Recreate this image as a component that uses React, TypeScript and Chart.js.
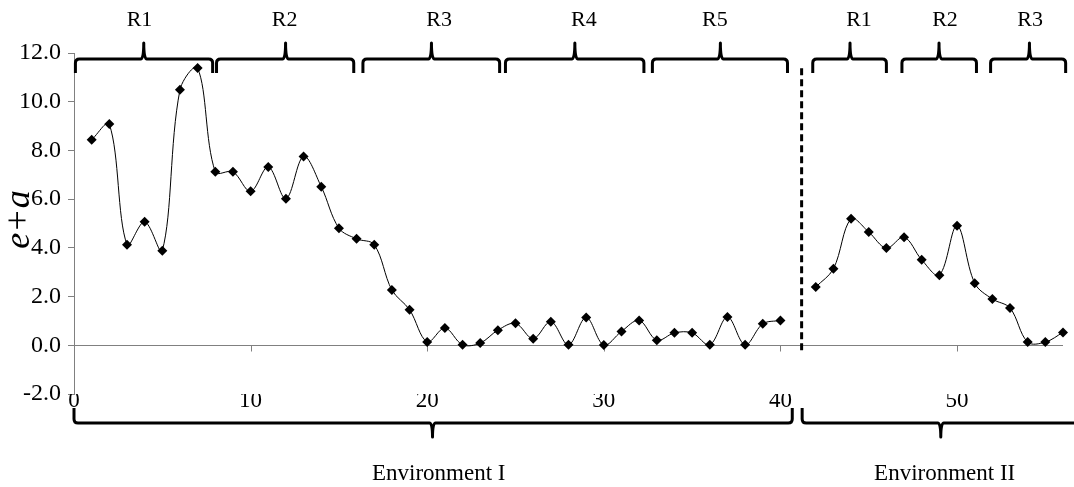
import React, { useEffect, useRef } from "react";
import { Chart, registerables } from "chart.js";

Chart.register(...registerables);

// ---- Data ----
const envIPositions = [1, 2, 3, 4, 5, 6, 7, 8, 9, 10, 11, 12, 13, 14, 15, 16, 17, 18, 19, 20, 21, 22, 23, 24, 25, 26, 27, 28, 29, 30, 31, 32, 33, 34, 35, 36, 37, 38, 39, 40];
const envIValues = [8.44, 9.08, 4.13, 5.07, 3.88, 10.49, 11.38, 7.12, 7.12, 6.32, 7.32, 6.02, 7.75, 6.51, 4.81, 4.37, 4.13, 2.27, 1.46, 0.14, 0.71, 0.02, 0.09, 0.62, 0.9, 0.27, 0.97, 0.02, 1.14, 0.01, 0.57, 1.02, 0.21, 0.51, 0.51, 0.02, 1.16, 0.02, 0.88, 1.02];

const envIIPositions = [42, 43, 44, 45, 46, 47, 48, 49, 50, 51, 52, 53, 54, 55, 56];
const envIIValues = [2.39, 3.14, 5.19, 4.65, 3.99, 4.44, 3.51, 2.88, 4.91, 2.55, 1.9, 1.53, 0.13, 0.13, 0.53];

const dividerX = [41.2, 41.2];
const dividerY = [-0.2, 11.45];

const xTickValues = [0, 10, 20, 30, 40, 50];
const yTickValues = [-2, 0, 2, 4, 6, 8, 10, 12];

const regionLabels = ["R1", "R2", "R3", "R4", "R5", "R1", "R2", "R3"];
const regionStart = [0.08, 8.07, 16.36, 24.43, 32.75, 41.83, 46.88, 51.9];
const regionEnd = [7.85, 15.84, 24.1, 32.27, 40.4, 46.0, 51.1, 56.15];
const regionMid = [3.95, 11.98, 20.24, 28.36, 36.6, 43.94, 48.98, 54.1];
const regionLabelX = [3.71, 11.93, 20.67, 28.87, 36.29, 44.45, 49.32, 54.14];

const envLabels = ["Environment I", "Environment II"];
const envStart = [0.0, 41.23];
const envEnd = [40.67, 57.5];
const envMid = [20.3, 49.08];
const envLabelX = [20.65, 49.3];

const yTitle = "e+a";

const FONT = "'Liberation Serif', 'Times New Roman', serif";

function drawBrace(ctx: CanvasRenderingContext2D, x0: number, x1: number, xm: number, yLine: number, yEnd: number, yTip: number) {
  const dir = Math.sign(yEnd - yLine);
  const r = 4;
  ctx.beginPath();
  ctx.moveTo(x0, yEnd);
  ctx.lineTo(x0, yLine + dir * r);
  ctx.quadraticCurveTo(x0, yLine, x0 + r, yLine);
  ctx.lineTo(xm - 3, yLine);
  ctx.quadraticCurveTo(xm, yLine, xm, yTip);
  ctx.quadraticCurveTo(xm, yLine, xm + 3, yLine);
  ctx.lineTo(x1 - r, yLine);
  ctx.quadraticCurveTo(x1, yLine, x1, yLine + dir * r);
  ctx.lineTo(x1, yEnd);
  ctx.stroke();
}

const annotationPlugin = {
  id: "annotations",
  beforeDatasetsDraw(chart: any) {
    const { ctx, scales } = chart;
    const xs = scales.x;
    const ys = scales.y;
    const y0 = Math.round(ys.getPixelForValue(0)) + 0.5;
    ctx.save();
    ctx.strokeStyle = "#808080";
    ctx.lineWidth = 1;
    ctx.beginPath();
    ctx.moveTo(xs.getPixelForValue(xs.min), y0);
    ctx.lineTo(xs.getPixelForValue(xs.max), y0);
    xs.ticks.forEach((t: any) => {
      const px = Math.round(xs.getPixelForValue(t.value)) + 0.5;
      ctx.moveTo(px, y0);
      ctx.lineTo(px, y0 + 6);
    });
    ctx.stroke();
    ctx.restore();
  },
  afterDraw(chart: any) {
    const { ctx, chartArea, scales } = chart;
    const xs = scales.x;
    const top = chartArea.top;
    const bottom = chartArea.bottom;
    ctx.save();
    ctx.strokeStyle = "#000";
    ctx.fillStyle = "#000";
    ctx.lineWidth = 3;
    ctx.lineJoin = "round";
    ctx.lineCap = "butt";

    // top region braces
    regionLabels.forEach((lab, i) => {
      drawBrace(
        ctx,
        xs.getPixelForValue(regionStart[i]),
        xs.getPixelForValue(regionEnd[i]),
        xs.getPixelForValue(regionMid[i]),
        top + 6,
        top + 20,
        top - 10
      );
      ctx.font = `22px ${FONT}`;
      ctx.textAlign = "center";
      ctx.textBaseline = "middle";
      ctx.fillText(lab, xs.getPixelForValue(regionLabelX[i]), top - 33);
    });

    // bottom environment braces
    envLabels.forEach((lab, i) => {
      drawBrace(
        ctx,
        xs.getPixelForValue(envStart[i]),
        xs.getPixelForValue(envEnd[i]),
        xs.getPixelForValue(envMid[i]),
        bottom + 29,
        bottom + 14,
        bottom + 43
      );
      ctx.font = `23px ${FONT}`;
      ctx.textAlign = "center";
      ctx.textBaseline = "middle";
      ctx.fillText(lab, xs.getPixelForValue(envLabelX[i]), bottom + 80);
    });

    // y axis title
    ctx.translate(chartArea.left - 45, (top + bottom) / 2 - 4);
    ctx.rotate(-Math.PI / 2);
    ctx.font = `italic 36px ${FONT}`;
    ctx.textAlign = "center";
    ctx.textBaseline = "alphabetic";
    ctx.fillText(yTitle, 0, 0);
    ctx.restore();
  },
};

export default function App() {
  const ref = useRef<HTMLCanvasElement | null>(null);

  useEffect(() => {
    if (!ref.current) return;
    const lineStyle = {
      borderColor: "#000",
      borderWidth: 1,
      tension: 0.35,
      pointStyle: "rectRot",
      pointRadius: 5,
      pointBackgroundColor: "#000",
      pointBorderColor: "#000",
      pointBorderWidth: 0,
      fill: false,
      clip: false,
    };
    const chart = new Chart(ref.current, {
      type: "line",
      data: {
        datasets: [
          {
            ...lineStyle,
            data: envIPositions.map((x, i) => ({ x, y: envIValues[i] })),
          },
          {
            ...lineStyle,
            data: envIIPositions.map((x, i) => ({ x, y: envIIValues[i] })),
          },
          {
            data: dividerX.map((x, i) => ({ x, y: dividerY[i] })),
            borderColor: "#000",
            borderWidth: 3,
            borderDash: [7, 4],
            pointRadius: 0,
            tension: 0,
            fill: false,
          },
        ],
      } as any,
      options: {
        animation: false,
        responsive: false,
        layout: { padding: { top: 53, right: 11, left: 0, bottom: 0 } },
        plugins: { legend: { display: false }, tooltip: { enabled: false } },
        scales: {
          x: {
            type: "linear",
            min: 0,
            max: 56,
            afterFit(s: any) {
              s.height = 93;
            },
            afterBuildTicks(s: any) {
              s.ticks = xTickValues.map((v) => ({ value: v }));
            },
            ticks: {
              padding: -7,
              maxRotation: 0,
              autoSkip: false,
              color: "#000",
              font: { family: FONT, size: 23 },
            },
            grid: { display: false, drawTicks: false },
            border: { display: false },
          },
          y: {
            min: -2,
            max: 12,
            afterFit(s: any) {
              s.width = 74;
            },
            afterBuildTicks(s: any) {
              s.ticks = yTickValues.map((v) => ({ value: v }));
            },
            ticks: {
              padding: 7,
              color: "#000",
              font: { family: FONT, size: 24 },
              callback: (v: any) => Number(v).toFixed(1),
            },
            grid: { drawOnChartArea: false, tickLength: 6, color: "#808080" },
            border: { color: "#808080" },
          },
        },
      } as any,
      plugins: [annotationPlugin],
    });
    return () => chart.destroy();
  }, []);

  return (
    <div style={{ position: "absolute", left: 0, top: 0, width: 1074, height: 487, background: "#fff" }}>
      <canvas ref={ref} width={1074} height={487} style={{ display: "block" }} />
    </div>
  );
}
